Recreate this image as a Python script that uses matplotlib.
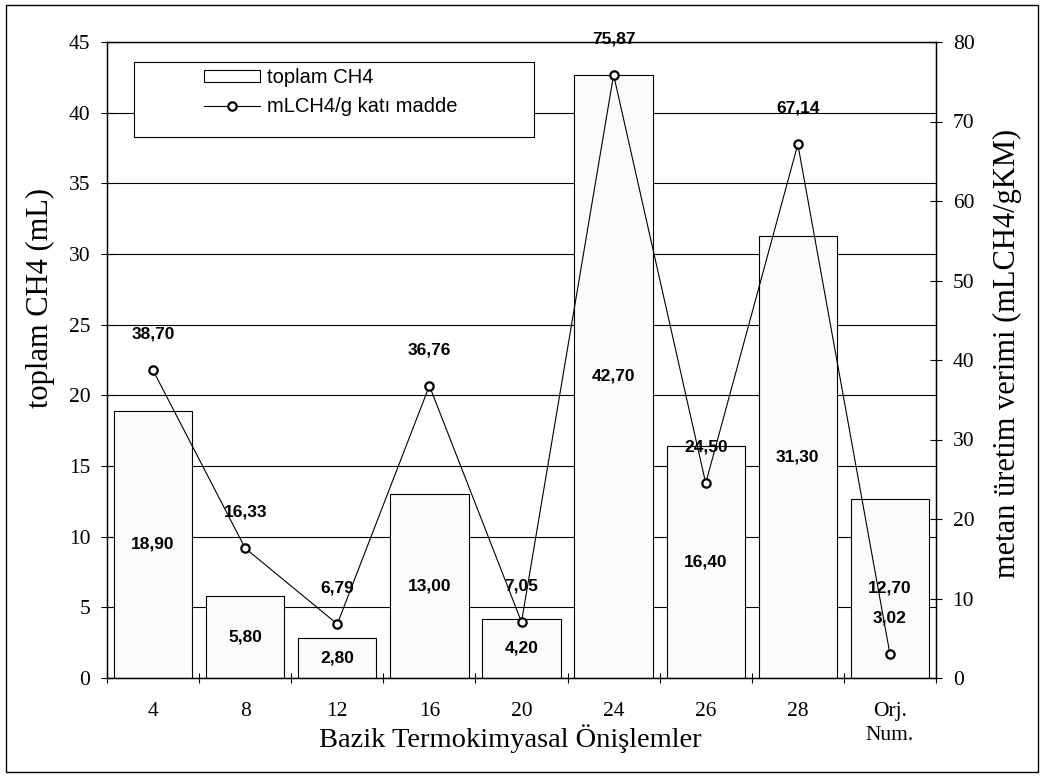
import numpy as np
import matplotlib
matplotlib.use("Agg")
import matplotlib.pyplot as plt
from matplotlib.patches import Rectangle
from matplotlib.lines import Line2D

categories = ["4", "8", "12", "16", "20", "24", "26", "28", "Orj.\nNum."]
toplam_ch4 = [18.90, 5.80, 2.80, 13.00, 4.20, 42.70, 16.40, 31.30, 12.70]
ml_ch4_per_g = [38.70, 16.33, 6.79, 36.76, 7.05, 75.87, 24.50, 67.14, 3.02]
left_ticks = [0, 5, 10, 15, 20, 25, 30, 35, 40, 45]
right_ticks = [0, 10, 20, 30, 40, 50, 60, 70, 80]

SERIF = ["Liberation Serif", "DejaVu Serif"]
SANS = ["Liberation Sans", "DejaVu Sans"]

def fmt(v):
    return f"{v:.2f}".replace(".", ",")

W, H = 1043, 776
fig = plt.figure(figsize=(W / 100, H / 100), dpi=100)
fig.patch.set_facecolor("white")
ax = fig.add_axes([107 / W, (H - 678) / H, 829 / W, 636 / H])

x = np.arange(len(categories))
ax.set_xlim(-0.5, len(categories) - 0.5)
ax.set_ylim(0, 45)
ax.set_yticks(left_ticks)
ax.yaxis.grid(True, color="black", linewidth=0.8)
ax.set_axisbelow(True)

bars = ax.bar(x, toplam_ch4, width=0.85, color="#fbfbfb", edgecolor="black",
              linewidth=0.8, zorder=2)
ax.bar_label(bars, labels=[fmt(v) for v in toplam_ch4],
             label_type="center", fontsize=12.5, fontweight="bold",
             family=SANS, zorder=5)

ax.set_xticks(x)
ax.set_xticklabels(categories, family=SERIF, fontsize=15.5, linespacing=1.35,
                   va="top")
ax.tick_params(axis="x", which="major", length=0, pad=17)
ax.set_xticks(np.arange(-0.5, len(categories)), minor=True)
ax.tick_params(axis="x", which="minor", length=7, direction="inout", width=0.8)
ax.tick_params(axis="y", which="major", length=8, direction="inout", width=0.8,
               pad=8, labelsize=15.5)
for lab in ax.get_yticklabels():
    lab.set_family(SERIF)

for s in ax.spines.values():
    s.set_linewidth(1.0)
    s.set_color("black")

ax2 = ax.twinx()
ax2.set_ylim(0, 80)
ax2.set_yticks(right_ticks)
ax2.plot(x, ml_ch4_per_g, color="black", linewidth=0.8, marker="o",
         markersize=6, markerfacecolor="white", markeredgecolor="black",
         markeredgewidth=1.6, zorder=4)
for xi, v in zip(x, ml_ch4_per_g):
    ax2.annotate(fmt(v), (xi, v), xytext=(0, 26), textcoords="offset points",
                 ha="center", va="center", fontsize=12.5, fontweight="bold",
                 family=SANS)
ax2.tick_params(axis="y", which="major", length=8, direction="inout", width=0.8,
                pad=8, labelsize=15.5)
for lab in ax2.get_yticklabels():
    lab.set_family(SERIF)

ax.set_xlabel("Bazik Termokimyasal Önişlemler", family=SERIF, fontsize=20.5)
ax.xaxis.set_label_coords(0.486, -0.072)
ax.set_ylabel("toplam CH4 (mL)", family=SERIF, fontsize=22)
ax.yaxis.set_label_coords(-0.063, 0.597)
ax2.set_ylabel("metan üretim verimi (mLCH4/gKM)", family=SERIF, fontsize=22)
ax2.yaxis.set_label_coords(1.069, 0.51)

# legend frame
ax2.add_patch(Rectangle(((134 - 107) / 829, (678 - 137) / 636),
                        (534 - 134) / 829, (137 - 62) / 636,
                        transform=ax2.transAxes, facecolor="white",
                        edgecolor="black", linewidth=0.8, zorder=6))
handles = [Rectangle((0, 0), 1, 1, facecolor="white", edgecolor="black", linewidth=0.8),
           Line2D([], [], color="black", linewidth=0.8, marker="o", markersize=6,
                  markerfacecolor="white", markeredgewidth=1.6)]
leg = ax2.legend(handles, ["toplam CH4", "mLCH4/g katı madde"],
                 loc="upper left", bbox_to_anchor=((204 - 107) / 829, (678 - 68) / 636),
                 bbox_transform=ax2.transAxes, frameon=False, borderpad=0,
                 borderaxespad=0, handlelength=2.8, handleheight=0.5,
                 handletextpad=0.35, labelspacing=0.5,
                 prop={"family": SANS, "size": 14.5})
leg.set_zorder(7)

# figure border
fig.add_artist(Rectangle((6 / W, 4 / H), 1032 / W, 767 / H, transform=fig.transFigure,
                         fill=False, edgecolor="black", linewidth=1.0))

fig.savefig("out.png", dpi=100)
